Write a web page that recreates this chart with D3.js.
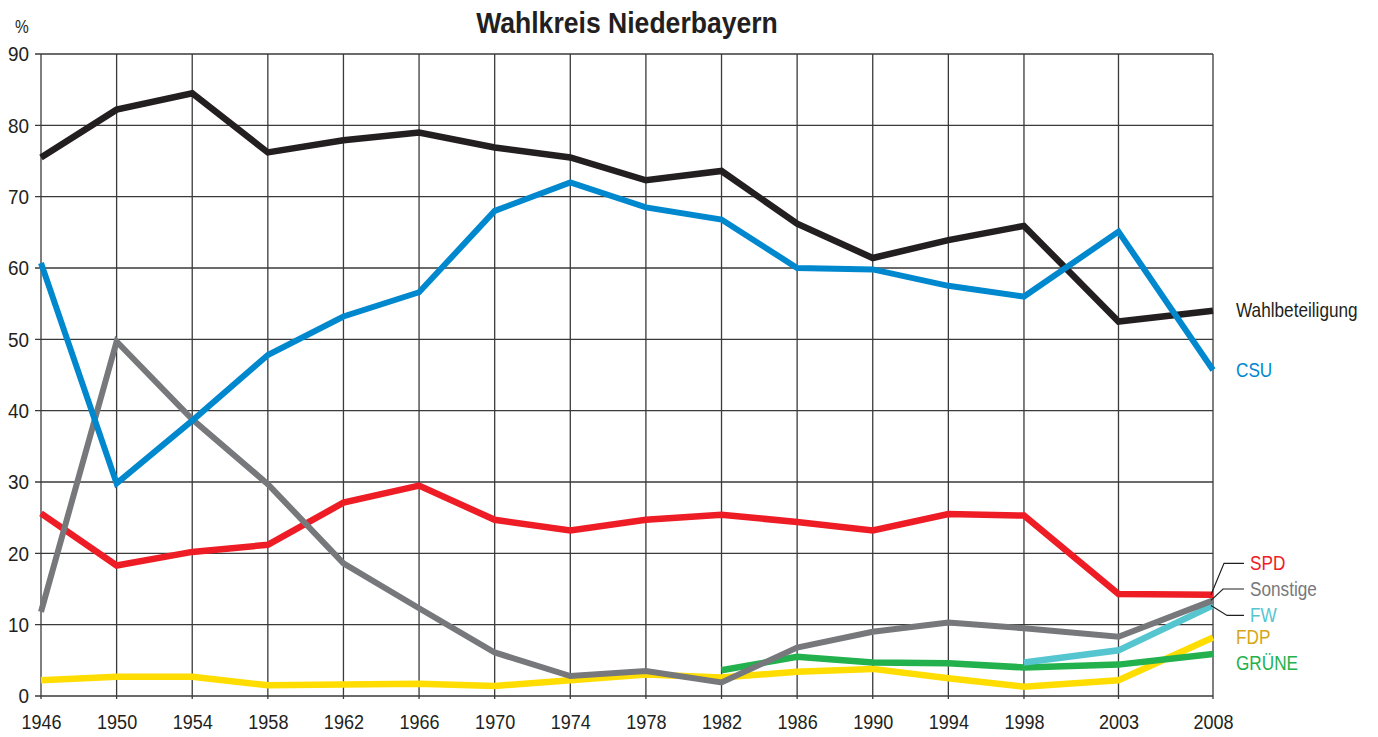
<!DOCTYPE html>
<html>
<head>
<meta charset="utf-8">
<script src="https://cdn.jsdelivr.net/npm/d3@7"></script>
<style>
  html, body { margin: 0; padding: 0; background: #fff; }
  svg text { font-family: "Liberation Sans", Arial, sans-serif; }
</style>
</head>
<body>
<svg id="chart" width="1378" height="737"></svg>
<script>
// ---- data ----
const years = [1946, 1950, 1954, 1958, 1962, 1966, 1970, 1974, 1978, 1982, 1986, 1990, 1994, 1998, 2003, 2008];
const wahlbeteiligung = [75.5, 82.2, 84.5, 76.2, 77.9, 79.0, 76.9, 75.5, 72.3, 73.6, 66.2, 61.4, 63.9, 65.9, 52.5, 54.0];
const csu      = [60.7, 29.8, 38.6, 47.8, 53.2, 56.6, 68.0, 72.0, 68.5, 66.8, 60.0, 59.8, 57.5, 56.0, 65.1, 45.7];
const spd      = [25.6, 18.3, 20.2, 21.2, 27.1, 29.5, 24.7, 23.2, 24.7, 25.4, 24.4, 23.2, 25.5, 25.3, 14.3, 14.2];
const sonstige = [11.8, 49.7, 38.8, 29.7, 18.6, 12.3, 6.1, 2.8, 3.5, 1.9, 6.8, 9.0, 10.3, 9.5, 8.3, 13.4];
const fdp      = [2.2, 2.7, 2.7, 1.5, 1.6, 1.7, 1.4, 2.2, 3.0, 2.6, 3.4, 3.8, 2.5, 1.3, 2.2, 8.2];
const grueneYears = [1982, 1986, 1990, 1994, 1998, 2003, 2008];
const gruene   = [3.6, 5.5, 4.7, 4.6, 4.0, 4.4, 5.9];
const fwYears  = [1998, 2003, 2008];
const fw       = [4.7, 6.4, 12.7];
const yTicks   = [0, 10, 20, 30, 40, 50, 60, 70, 80, 90];
const title    = "Wahlkreis Niederbayern";
const unitLabel = "%";

// ---- series (draw order: bottom first) ----
const series = [
  { name: "FDP",             years: years,       values: fdp,             color: "#ffdd00", width: 6.5, label: "#d6a616" },
  { name: "GRÜNE",           years: grueneYears, values: gruene,          color: "#22b14c", width: 6.5, label: "#22b14c" },
  { name: "FW",              years: fwYears,     values: fw,              color: "#55c5d0", width: 6.5, label: "#55c5d0" },
  { name: "SPD",             years: years,       values: spd,             color: "#ee1c25", width: 6.5, label: "#ee1c25" },
  { name: "Sonstige",        years: years,       values: sonstige,        color: "#77787b", width: 6,   label: "#77787b" },
  { name: "Wahlbeteiligung", years: years,       values: wahlbeteiligung, color: "#231f20", width: 6.5, label: "#231f20" },
  { name: "CSU",             years: years,       values: csu,             color: "#0088cf", width: 6,   label: "#0088cf" }
];

(function draw() {
  const svg = d3.select("#chart");
  const pL = 41, pR = 1213, pT = 54, pB = 696;
  const x = d3.scaleLinear().domain([1946, 2008]).range([pL, pR]);
  const y = d3.scaleLinear().domain([0, 90]).range([pB, pT]);
  const fontFam = "Liberation Sans, Arial, sans-serif";
  const S = 0.86; // horizontal condensing factor

  // condense text horizontally, keeping its anchor point
  function condense(sel, s) {
    sel.each(function () {
      const t = d3.select(this);
      const x0 = +(t.attr("x") || 0);
      t.attr("x", x0 / s).attr("transform", `scale(${s},1)`);
    });
  }

  // grid
  const grid = svg.append("g");
  grid.selectAll("line.h").data(yTicks).join("line").attr("class", "h")
    .attr("x1", pL - 6).attr("x2", pR)
    .attr("y1", d => y(d)).attr("y2", d => y(d))
    .attr("stroke", "#3a3a3a").attr("stroke-width", 1.3);
  grid.selectAll("line.v").data(years).join("line").attr("class", "v")
    .attr("x1", d => x(d)).attr("x2", d => x(d))
    .attr("y1", pT).attr("y2", pB + 3)
    .attr("stroke", "#3a3a3a").attr("stroke-width", 1.3);

  // axes
  const yAxis = d3.axisLeft(y).tickValues(yTicks).tickSize(0).tickPadding(12);
  svg.append("g").attr("transform", `translate(${pL},0)`).call(yAxis)
    .call(g => g.select(".domain").remove())
    .call(g => g.selectAll("text").attr("font-size", 21).attr("fill", "#231f20").attr("font-family", fontFam)
      .call(condense, 0.9));

  const xAxis = d3.axisBottom(x).tickValues(years).tickFormat(d3.format("d")).tickSize(0).tickPadding(18);
  svg.append("g").attr("transform", `translate(0,${pB})`).call(xAxis)
    .call(g => g.select(".domain").remove())
    .call(g => g.selectAll("text").attr("font-size", 21).attr("fill", "#231f20").attr("font-family", fontFam)
      .call(condense, S));

  // lines
  const line = d3.line().x(d => x(d[0])).y(d => y(d[1]));
  svg.append("g").selectAll("path").data(series).join("path")
    .attr("d", s => line(s.years.map((yr, i) => [yr, s.values[i]])))
    .attr("fill", "none")
    .attr("stroke", s => s.color)
    .attr("stroke-width", s => s.width)
    .attr("stroke-linejoin", "miter")
    .attr("stroke-miterlimit", 10)
    .attr("stroke-linecap", "butt");

  // labels
  const labelFor = name => series.find(s => s.name === name);
  const lastY = name => { const s = labelFor(name); return y(s.values[s.values.length - 1]); };

  const labelDefs = [
    { name: "Wahlbeteiligung", x: pR + 23, y: lastY("Wahlbeteiligung") - 1 },
    { name: "CSU",             x: pR + 23, y: lastY("CSU") },
    { name: "SPD",             x: pR + 37, y: y(18.6) },
    { name: "Sonstige",        x: pR + 37, y: y(15.0) },
    { name: "FW",              x: pR + 37, y: y(11.3) },
    { name: "FDP",             x: pR + 23, y: lastY("FDP") },
    { name: "GRÜNE",           x: pR + 23, y: y(4.6) }
  ];
  svg.append("g").attr("font-size", 20).attr("font-family", fontFam)
    .selectAll("text").data(labelDefs).join("text")
    .attr("x", d => d.x).attr("y", d => d.y + 7)
    .attr("fill", d => labelFor(d.name).label)
    .text(d => d.name)
    .call(condense, S);

  // leader lines for SPD, Sonstige, FW
  const leaders = [
    { name: "SPD",      elbowX: pR + 11, endY: lastY("SPD") },
    { name: "Sonstige", elbowX: pR + 10, endY: lastY("Sonstige") },
    { name: "FW",       elbowX: pR + 14, endY: lastY("FW") }
  ];
  svg.append("g").selectAll("path").data(leaders).join("path")
    .attr("d", d => {
      const ld = labelDefs.find(l => l.name === d.name);
      return `M${ld.x - 6},${ld.y} L${d.elbowX},${ld.y} L${pR - 2},${d.endY}`;
    })
    .attr("fill", "none").attr("stroke", "#231f20").attr("stroke-width", 1.2);

  // title and unit
  svg.append("text").attr("x", 627).attr("y", 33.5).attr("text-anchor", "middle")
    .attr("font-family", fontFam)
    .attr("font-size", 30).attr("font-weight", "bold").attr("fill", "#231f20")
    .text(title)
    .call(condense, 0.886);
  svg.append("text").attr("x", 22).attr("y", 33).attr("text-anchor", "middle")
    .attr("font-family", fontFam)
    .attr("font-size", 18).attr("fill", "#231f20").text(unitLabel)
    .call(condense, S);
})();
</script>
</body>
</html>
